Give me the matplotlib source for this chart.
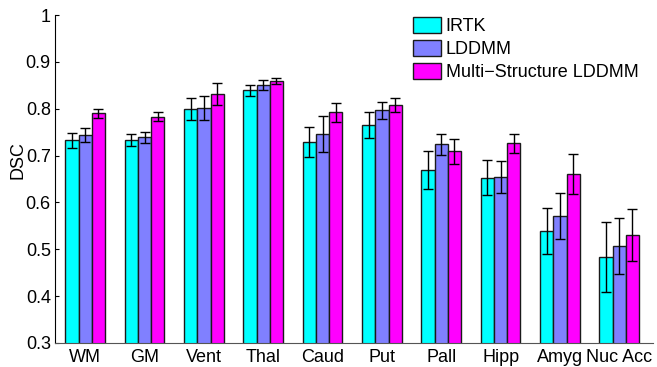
import matplotlib
matplotlib.use('Agg')
import matplotlib.pyplot as plt
import numpy as np

plt.rcParams.update({
    'font.family': ['Liberation Sans', 'DejaVu Sans'],
    'font.size': 13,
})

strukturen = ['WM', 'GM', 'Vent', 'Thal', 'Caud', 'Put', 'Pall', 'Hipp', 'Amyg', 'Nuc Acc']
methoden = ['IRTK', 'LDDMM', 'Multi\u2212Structure LDDMM']

irtk = [0.733, 0.733, 0.799, 0.839, 0.729, 0.766, 0.669, 0.653, 0.539, 0.483]
lddmm = [0.744, 0.739, 0.802, 0.851, 0.746, 0.797, 0.724, 0.655, 0.571, 0.507]
multi = [0.790, 0.783, 0.831, 0.859, 0.792, 0.809, 0.709, 0.726, 0.660, 0.530]

irtk_err = [0.016, 0.013, 0.024, 0.011, 0.032, 0.028, 0.040, 0.037, 0.049, 0.075]
lddmm_err = [0.014, 0.012, 0.025, 0.011, 0.039, 0.018, 0.023, 0.034, 0.049, 0.059]
multi_err = [0.009, 0.009, 0.023, 0.007, 0.021, 0.015, 0.027, 0.020, 0.043, 0.056]

farben = ['#00FFFF', '#8080FF', '#FF00FF']

fig = plt.figure(figsize=(6.57, 3.67), dpi=100)
ax = fig.add_axes([0.0837, 0.0654, 0.9103, 0.8936])

x = np.arange(1, len(strukturen) + 1)
w = 0.223
for i, (werte, fehler) in enumerate(zip([irtk, lddmm, multi], [irtk_err, lddmm_err, multi_err])):
    pos = x + (i - 1) * w
    ax.bar(pos, werte, width=w, color=farben[i], edgecolor='#1a1a1a',
           linewidth=1.0, label=methoden[i], zorder=2)
    ax.errorbar(pos, werte, yerr=fehler, fmt='none', ecolor='black',
                elinewidth=1.0, capsize=3.6, capthick=1.0, zorder=3)

ax.set_xlim(0.49, 10.57)
ax.set_ylim(0.3, 1.0)
ax.set_yticks(np.arange(0.3, 1.01, 0.1))
ax.set_yticklabels(['0.3', '0.4', '0.5', '0.6', '0.7', '0.8', '0.9', '1'])
ax.set_xticks(x)
ax.set_xticklabels(strukturen)
ax.tick_params(axis='both', direction='in', length=3, pad=3)
ax.tick_params(axis='x', length=0, pad=4)
ax.set_ylabel('DSC')
ax.yaxis.set_label_coords(-0.047, 0.558)

ax.spines['top'].set_visible(False)
ax.spines['right'].set_visible(False)
ax.spines['bottom'].set_color('#555555')
ax.spines['left'].set_color('black')

ax.legend(loc='upper left', bbox_to_anchor=(413 / 657, 1 - 17 / 367),
          bbox_transform=fig.transFigure, frameon=False,
          handlelength=1.55, handleheight=1.0, handletextpad=0.25,
          labelspacing=0.25, borderaxespad=0, borderpad=0)

fig.savefig('out.png', dpi=100)
